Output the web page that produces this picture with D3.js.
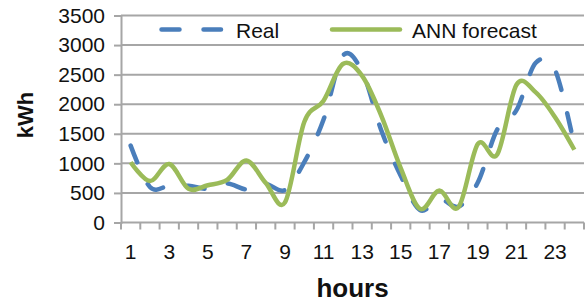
<!DOCTYPE html>
<html>
<head>
<meta charset="utf-8">
<script src="https://cdn.jsdelivr.net/npm/d3@7"></script>
<style>
  body { margin: 0; background: #fff; }
  text { font-family: "Liberation Sans", Arial, sans-serif; fill: #111; }
</style>
</head>
<body>
<div class="chart"></div>
<script>
const hours = d3.range(1, 25);
const real = [1300, 600, 620, 620, 570, 660, 560, 650, 550, 1020, 1740, 2820,
              2550, 1550, 790, 210, 400, 270, 680, 1570, 1900, 2700, 2580, 1300];
const ann  = [1020, 700, 990, 570, 630, 720, 1050, 670, 340, 1700, 2060, 2680,
              2480, 1800, 920, 230, 540, 260, 1330, 1150, 2330, 2200, 1780, 1230];
const yTicks = [0, 500, 1000, 1500, 2000, 2500, 3000, 3500];
const xLabels = [1, 3, 5, 7, 9, 11, 13, 15, 17, 19, 21, 23];

const width = 585, height = 304;
const mLeft = 121, mRight = 584, mTop = 15.5, mBottom = 222.5;
const grey = "#a6a6a6";

const svg = d3.select(".chart")
    .append("svg")
    .attr("width", width)
    .attr("height", height)
    .attr("viewBox", [0, 0, width, height]);

const x = d3.scaleBand().domain(hours).range([mLeft, mRight]).padding(0);
const y = d3.scaleLinear().domain([0, 3500]).range([mBottom, mTop]);
const cx = h => x(h) + x.bandwidth() / 2;

// gridlines + y axis
svg.append("g")
    .selectAll("line")
    .data(yTicks)
    .join("line")
    .attr("x1", mLeft)
    .attr("x2", mRight)
    .attr("y1", d => y(d))
    .attr("y2", d => y(d))
    .attr("stroke", grey)
    .attr("stroke-width", 2);

const yAxis = svg.append("g")
    .attr("transform", `translate(${mLeft},0)`)
    .call(d3.axisLeft(y).tickValues(yTicks).tickFormat(d3.format("d")).tickSize(7).tickPadding(9));
yAxis.select(".domain").attr("stroke", grey).attr("stroke-width", 2);
yAxis.selectAll(".tick line").attr("stroke", grey).attr("stroke-width", 2);
yAxis.selectAll(".tick text")
    .attr("font-size", 21)
    .attr("font-family", "Liberation Sans, Arial, sans-serif")
    .attr("fill", "#111");

// x axis ticks between categories
const bounds = d3.range(hours.length + 1).map(k => mLeft + k * x.step());
svg.append("g")
    .selectAll("line")
    .data(bounds)
    .join("line")
    .attr("x1", d => d)
    .attr("x2", d => d)
    .attr("y1", mBottom)
    .attr("y2", mBottom + 7)
    .attr("stroke", grey)
    .attr("stroke-width", 2);

svg.append("g")
    .selectAll("text")
    .data(xLabels)
    .join("text")
    .attr("x", d => cx(d))
    .attr("y", 258.5)
    .attr("text-anchor", "middle")
    .attr("font-size", 21)
    .text(d => d);

// series
const line = d3.line()
    .x((d, i) => cx(hours[i]))
    .y(d => y(d))
    .curve(d3.curveCardinal.tension(0));

svg.append("path")
    .datum(real)
    .attr("d", line)
    .attr("fill", "none")
    .attr("stroke", "#4a7ebb")
    .attr("stroke-width", 4.5)
    .attr("stroke-linecap", "round")
    .attr("stroke-dasharray", "18,24");

svg.append("path")
    .datum(ann)
    .attr("d", line)
    .attr("fill", "none")
    .attr("stroke", "#9bbb59")
    .attr("stroke-width", 4.5)
    .attr("stroke-linejoin", "round");

// legend
const legend = svg.append("g");
legend.append("line")
    .attr("x1", 161.5).attr("x2", 221)
    .attr("y1", 29.5).attr("y2", 29.5)
    .attr("stroke", "#4a7ebb")
    .attr("stroke-width", 4.5)
    .attr("stroke-linecap", "round")
    .attr("stroke-dasharray", "18,24");
legend.append("text")
    .attr("x", 236)
    .attr("y", 37.5)
    .attr("font-size", 21)
    .text("Real");
legend.append("line")
    .attr("x1", 332).attr("x2", 400)
    .attr("y1", 29.5).attr("y2", 29.5)
    .attr("stroke", "#9bbb59")
    .attr("stroke-width", 4.5)
    .attr("stroke-linecap", "round");
legend.append("text")
    .attr("x", 412)
    .attr("y", 37.5)
    .attr("font-size", 21)
    .text("ANN forecast");

// axis titles
svg.append("text")
    .attr("x", (mLeft + mRight) / 2)
    .attr("y", 296.5)
    .attr("text-anchor", "middle")
    .attr("font-size", 26)
    .attr("font-weight", "bold")
    .text("hours");

svg.append("text")
    .attr("transform", `translate(33,115) rotate(-90)`)
    .attr("text-anchor", "middle")
    .attr("font-size", 22)
    .attr("font-weight", "bold")
    .text("kWh");
</script>
</body>
</html>
